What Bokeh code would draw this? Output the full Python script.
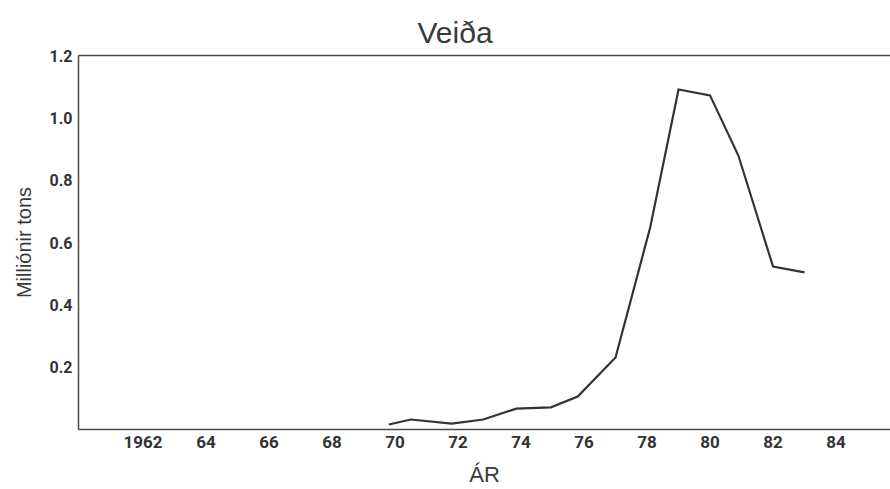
from bokeh.plotting import figure
from bokeh.models import LinearAxis, FixedTicker, Range1d
from bokeh.embed import file_html
from bokeh.resources import INLINE

# Data
years = [1969.8, 1970.5, 1971.8, 1972.8, 1973.85, 1974.95, 1975.8,
         1977.0, 1978.1, 1979.0, 1980.0, 1980.9, 1982.0, 1983.0]
catch_mt = [0.016, 0.032, 0.019, 0.032, 0.067, 0.071, 0.106,
            0.231, 0.648, 1.091, 1.072, 0.879, 0.523, 0.504]

x_ticks = [1962, 1964, 1966, 1968, 1970, 1972, 1974, 1976, 1978, 1980, 1982, 1984]
x_tick_labels = ["1962", "64", "66", "68", "70", "72", "74", "76", "78", "80", "82", "84"]
y_ticks = [0.2, 0.4, 0.6, 0.8, 1.0, 1.2]
y_tick_labels = ["0.2", "0.4", "0.6", "0.8", "1.0", "1.2"]

NARROW = "Roboto, sans-serif"
SANS = "'Liberation Sans', Arial, sans-serif"
AX = "#4a4a4a"

p = figure(width=890, height=489, output_backend="svg", toolbar_location=None,
           x_range=Range1d(1959.95, 1985.73), y_range=Range1d(0, 1.2),
           min_border_left=78, min_border_right=0, min_border_top=55,
           min_border_bottom=59, title="Veiða")
p.outline_line_color = None
p.grid.visible = False
p.background_fill_color = "white"
p.border_fill_color = "white"

p.title.text_font = SANS
p.title.text_font_size = "30px"
p.title.text_font_style = "normal"
p.title.text_color = "#3a3a3a"
p.title.align = "left"
p.title.offset = 339
p.title.standoff = 14

xa = p.xaxis[0]
xa.ticker = FixedTicker(ticks=x_ticks)
xa.major_label_overrides = {t: l for t, l in zip(x_ticks, x_tick_labels)}
xa.major_tick_out = 0
xa.major_tick_in = 0
xa.minor_tick_line_color = None
xa.major_label_standoff = 6
xa.major_label_text_font = NARROW
xa.major_label_text_font_style = "bold"
xa.major_label_text_font_size = "17px"
xa.major_label_text_color = "#333333"
xa.axis_line_color = AX
xa.axis_line_width = 1.5
xa.axis_label = "ÁR"
xa.axis_label_text_font = SANS
xa.axis_label_text_font_style = "normal"
xa.axis_label_text_font_size = "22px"
xa.axis_label_text_color = "#3a3a3a"
xa.axis_label_standoff = 11

ya = p.yaxis[0]
ya.ticker = FixedTicker(ticks=y_ticks)
ya.major_label_overrides = {t: l for t, l in zip(y_ticks, y_tick_labels)}
ya.major_tick_out = 0
ya.major_tick_in = 0
ya.minor_tick_line_color = None
ya.major_label_standoff = 6
ya.major_label_text_font = NARROW
ya.major_label_text_font_style = "bold"
ya.major_label_text_font_size = "16px"
ya.major_label_text_color = "#333333"
ya.axis_line_color = AX
ya.axis_line_width = 1.5
ya.axis_label = "Milliónir tons"
ya.axis_label_text_font = SANS
ya.axis_label_text_font_style = "normal"
ya.axis_label_text_font_size = "20px"
ya.axis_label_text_color = "#3a3a3a"
ya.axis_label_standoff = 12

top = LinearAxis(ticker=FixedTicker(ticks=[]), axis_line_color=AX, axis_line_width=1.5,
                 major_tick_line_color=None, minor_tick_line_color=None)
p.add_layout(top, "above")

p.line(years, catch_mt, line_color="#333333", line_width=2.2, line_join="miter")

open("out.html", "w").write(file_html(p, INLINE))
